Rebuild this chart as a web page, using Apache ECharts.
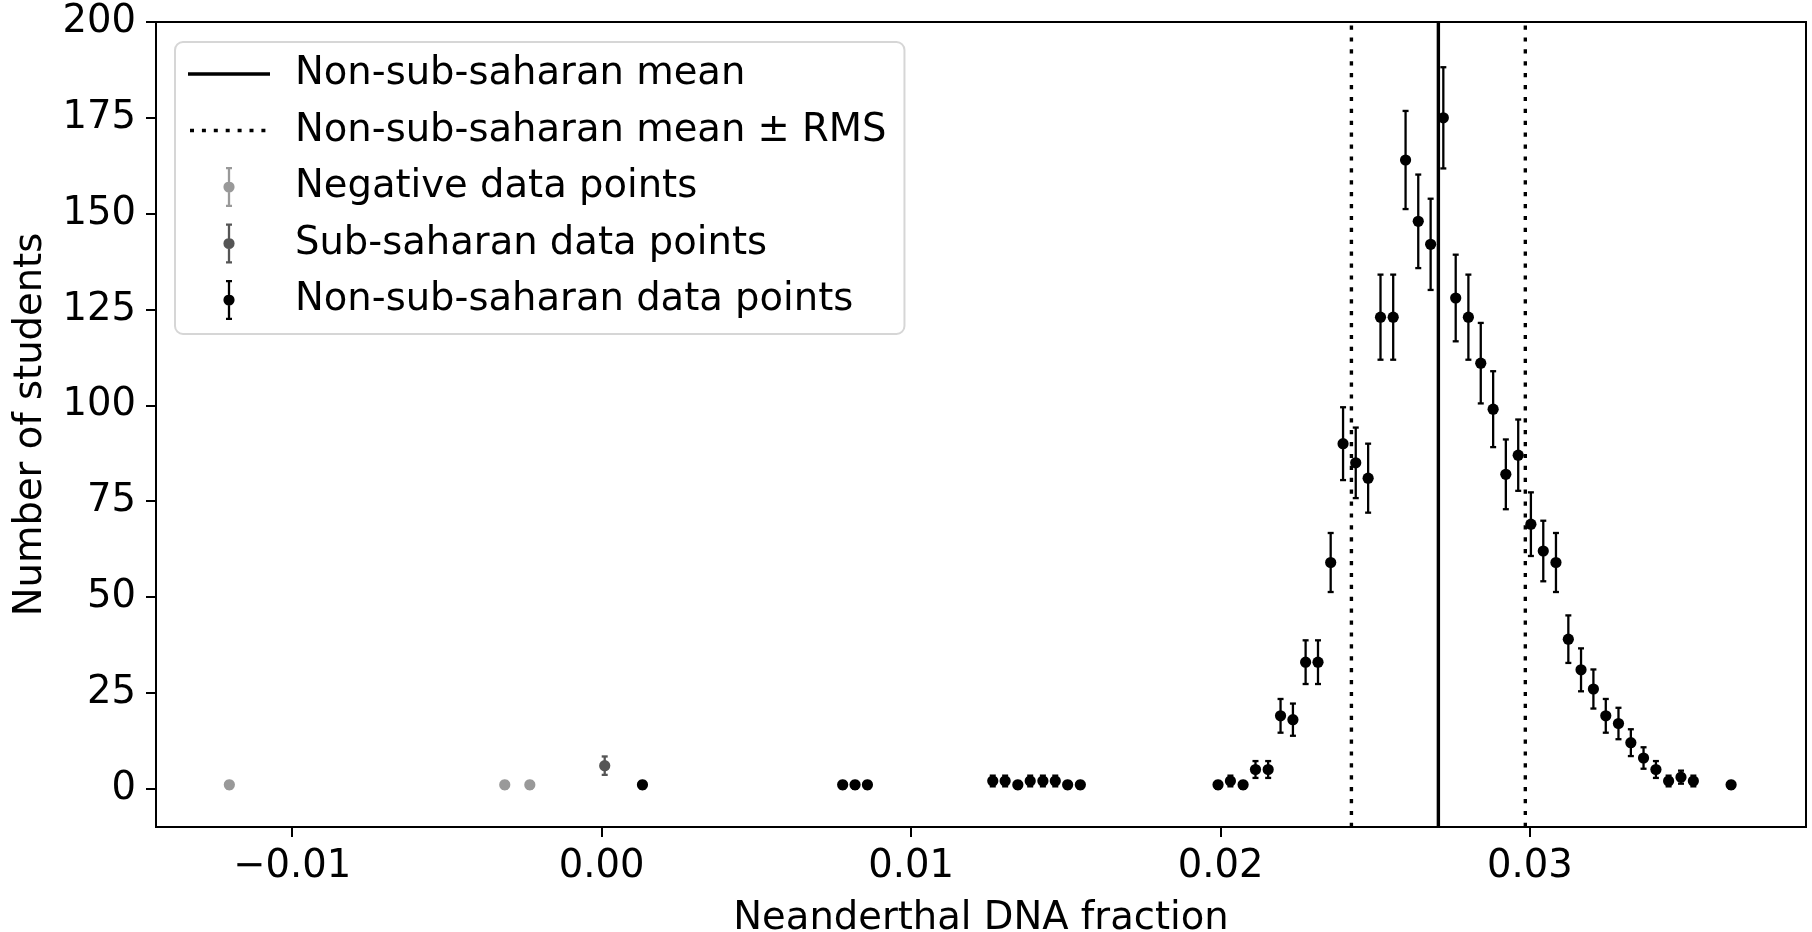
<!DOCTYPE html>
<html>
<head>
<meta charset="utf-8">
<script src="https://cdn.jsdelivr.net/npm/echarts@6/dist/echarts.min.js"></script>
<style>
  html, body { margin: 0; padding: 0; background: #ffffff; }
  #chart { width: 1812px; height: 932px; }
</style>
</head>
<body>
<div id="chart"></div>
<script>
// Histogram bin centres (Neanderthal DNA fraction), student counts and their uncertainties

const negativeX   = [-0.01203, -0.00313, -0.00232];
const negativeY   = [1, 1, 1];
const negativeErr = [1.0, 1.0, 1.0];

const subSaharanX   = [0.00010];
const subSaharanY   = [6];
const subSaharanErr = [2.4];

const nonSubSaharanX = [
  0.00132, 0.00779, 0.00819, 0.00859,
  0.01264, 0.01304, 0.01345, 0.01385, 0.01426, 0.01466, 0.01506, 0.01547,
  0.01992, 0.02032, 0.02073, 0.02113, 0.02154, 0.02194, 0.02234, 0.02275,
  0.02315, 0.02356, 0.02396, 0.02437, 0.02477, 0.02517, 0.02558, 0.02598,
  0.02639, 0.02679, 0.02720, 0.02760, 0.02801, 0.02841, 0.02881, 0.02922,
  0.02962, 0.03003, 0.03043, 0.03084, 0.03124, 0.03165, 0.03205, 0.03245,
  0.03286, 0.03326, 0.03367, 0.03407, 0.03448, 0.03488, 0.03528, 0.03650
];
const nonSubSaharanY = [
  1, 1, 1, 1,
  2, 2, 1, 2, 2, 2, 1, 1,
  1, 2, 1, 5, 5, 19, 18, 33,
  33, 59, 90, 85, 81, 123, 123, 164,
  148, 142, 175, 128, 123, 111, 99, 82,
  87, 69, 62, 59, 39, 31, 26, 19,
  17, 12, 8, 5, 2, 3, 2, 1
];
const nonSubSaharanErr = [
  1.0, 1.0, 1.0, 1.0,
  1.4, 1.4, 1.0, 1.4, 1.4, 1.4, 1.0, 1.0,
  1.0, 1.4, 1.0, 2.2, 2.2, 4.4, 4.2, 5.7,
  5.7, 7.7, 9.5, 9.2, 9.0, 11.1, 11.1, 12.8,
  12.2, 11.9, 13.2, 11.3, 11.1, 10.5, 9.9, 9.1,
  9.3, 8.3, 7.9, 7.7, 6.2, 5.6, 5.1, 4.4,
  4.1, 3.5, 2.8, 2.2, 1.4, 1.7, 1.4, 1.0
];

// Mean of the non-sub-saharan sample and the mean ± RMS band
const meanValue = 0.02704;
const rmsBand = [0.02423, 0.02985];

// Axis ranges and tick labels
const xRange = [-0.0144, 0.03892];
const yRange = [-10, 200];
const xTicks = [-0.01, 0.00, 0.01, 0.02, 0.03];
const yTicks = [0, 25, 50, 75, 100, 125, 150, 175, 200];

const FONT = 'DejaVu Sans';
const FS = 38.5;

const COLORS = {
  negative: '#999999',
  subSaharan: '#555555',
  nonSubSaharan: '#000000'
};

function toTriples(xs, ys, es) {
  return xs.map((x, i) => [x, ys[i], es[i]]);
}

// Point with a vertical error bar and small caps
function errorBarRenderer(color) {
  return function (params, api) {
    const x = api.value(0), y = api.value(1), e = api.value(2);
    const c = api.coord([x, y]);
    const hi = api.coord([x, y + e]);
    const lo = api.coord([x, y - e]);
    const cap = 3;
    const ls = { stroke: color, lineWidth: 2.3 };
    return {
      type: 'group',
      children: [
        { type: 'line', shape: { x1: c[0], y1: hi[1], x2: c[0], y2: lo[1] }, style: ls },
        { type: 'line', shape: { x1: c[0] - cap, y1: hi[1], x2: c[0] + cap, y2: hi[1] }, style: ls },
        { type: 'line', shape: { x1: c[0] - cap, y1: lo[1], x2: c[0] + cap, y2: lo[1] }, style: ls },
        { type: 'circle', shape: { cx: c[0], cy: c[1], r: 5.6 }, style: { fill: color } }
      ]
    };
  };
}

// Legend glyphs, each laid out in an 82x40 box
const errorIcon = 'path://M0,0M82,40M38,0h6v2.2h-1.85v35.6h1.85v2.2h-6v-2.2h1.85v-35.6h-1.85z' +
                  'M46.6,20A5.6,5.6 0 1,1 35.4,20A5.6,5.6 0 1,1 46.6,20z';
const solidIcon = 'path://M0,0M82,40M0,18.3h82v3.4h-82z';
const dottedIcon = 'path://M0,0M82,40' +
  'M2,18.3h4v3.4h-4z M13.9,18.3h4v3.4h-4z M25.8,18.3h4v3.4h-4z M37.7,18.3h4v3.4h-4z' +
  'M49.6,18.3h4v3.4h-4z M61.5,18.3h4v3.4h-4z M73.4,18.3h4v3.4h-4z';

function errorSeries(name, xs, ys, es, color) {
  return {
    name: name,
    type: 'custom',
    renderItem: errorBarRenderer(color),
    itemStyle: { color: color },
    encode: { x: 0, y: 1 },
    data: toTriples(xs, ys, es),
    clip: true,
    z: 5
  };
}

function verticalLine(name, x, style) {
  return {
    name: name,
    type: 'line',
    data: [[x, yRange[0]], [x, yRange[1]]],
    symbol: 'none',
    silent: true,
    itemStyle: { color: '#000' },
    lineStyle: style,
    z: 3
  };
}

const meanStyle = { color: '#000', width: 3.4, type: 'solid' };
const rmsStyle = { color: '#000', width: 3.4, type: [4.2, 7.7], cap: 'butt' };

const chart = echarts.init(document.getElementById('chart'), null, { renderer: 'canvas' });

chart.setOption({
  animation: false,
  backgroundColor: '#ffffff',
  textStyle: { fontFamily: FONT },
  grid: {
    left: 156, right: 6, top: 22, bottom: 105,
    outerBoundsMode: 'none',
    containLabel: false,
    show: true, borderColor: '#000', borderWidth: 2, backgroundColor: 'transparent'
  },
  xAxis: {
    type: 'value',
    min: xRange[0],
    max: xRange[1],
    name: 'Neanderthal DNA fraction',
    nameLocation: 'middle',
    nameGap: 72,
    nameTextStyle: { fontFamily: FONT, fontSize: FS, color: '#000' },
    axisLine: { show: true, onZero: false, lineStyle: { color: '#000', width: 2 } },
    axisTick: { show: true, length: 10, lineStyle: { color: '#000', width: 2 }, customValues: xTicks },
    axisLabel: {
      margin: 20,
      fontFamily: FONT, fontSize: FS, color: '#000',
      customValues: xTicks,
      formatter: v => (v < 0 ? '\u2212' : '') + Math.abs(v).toFixed(2)
    },
    splitLine: { show: false }
  },
  yAxis: {
    type: 'value',
    min: yRange[0],
    max: yRange[1],
    name: 'Number of students',
    nameLocation: 'middle',
    nameGap: 106,
    nameTextStyle: { fontFamily: FONT, fontSize: FS, color: '#000' },
    axisLine: { show: true, onZero: false, lineStyle: { color: '#000', width: 2 } },
    axisTick: { show: true, length: 10, lineStyle: { color: '#000', width: 2 }, customValues: yTicks },
    axisLabel: {
      margin: 20,
      fontFamily: FONT, fontSize: FS, color: '#000',
      customValues: yTicks,
      formatter: v => String(v)
    },
    splitLine: { show: false }
  },
  legend: {
    orient: 'vertical',
    left: 175,
    top: 42,
    padding: [12, 18, 14, 13],
    itemGap: 16.5,
    itemWidth: 82,
    itemHeight: 40,
    selectedMode: false,
    backgroundColor: '#ffffff',
    borderColor: '#d6d6d6',
    borderWidth: 2,
    borderRadius: 8,
    textStyle: { fontFamily: FONT, fontSize: FS, color: '#000', lineHeight: 40, padding: [0, 0, 0, 20] },
    data: [
      { name: 'Non-sub-saharan mean', icon: solidIcon },
      { name: 'Non-sub-saharan mean \u00b1 RMS', icon: dottedIcon },
      { name: 'Negative data points', icon: errorIcon },
      { name: 'Sub-saharan data points', icon: errorIcon },
      { name: 'Non-sub-saharan data points', icon: errorIcon }
    ]
  },
  series: [
    verticalLine('Non-sub-saharan mean', meanValue, meanStyle),
    verticalLine('Non-sub-saharan mean \u00b1 RMS', rmsBand[0], rmsStyle),
    verticalLine('Non-sub-saharan mean \u00b1 RMS', rmsBand[1], rmsStyle),
    errorSeries('Negative data points', negativeX, negativeY, negativeErr, COLORS.negative),
    errorSeries('Sub-saharan data points', subSaharanX, subSaharanY, subSaharanErr, COLORS.subSaharan),
    errorSeries('Non-sub-saharan data points', nonSubSaharanX, nonSubSaharanY, nonSubSaharanErr, COLORS.nonSubSaharan)
  ]
});
</script>
</body>
</html>
